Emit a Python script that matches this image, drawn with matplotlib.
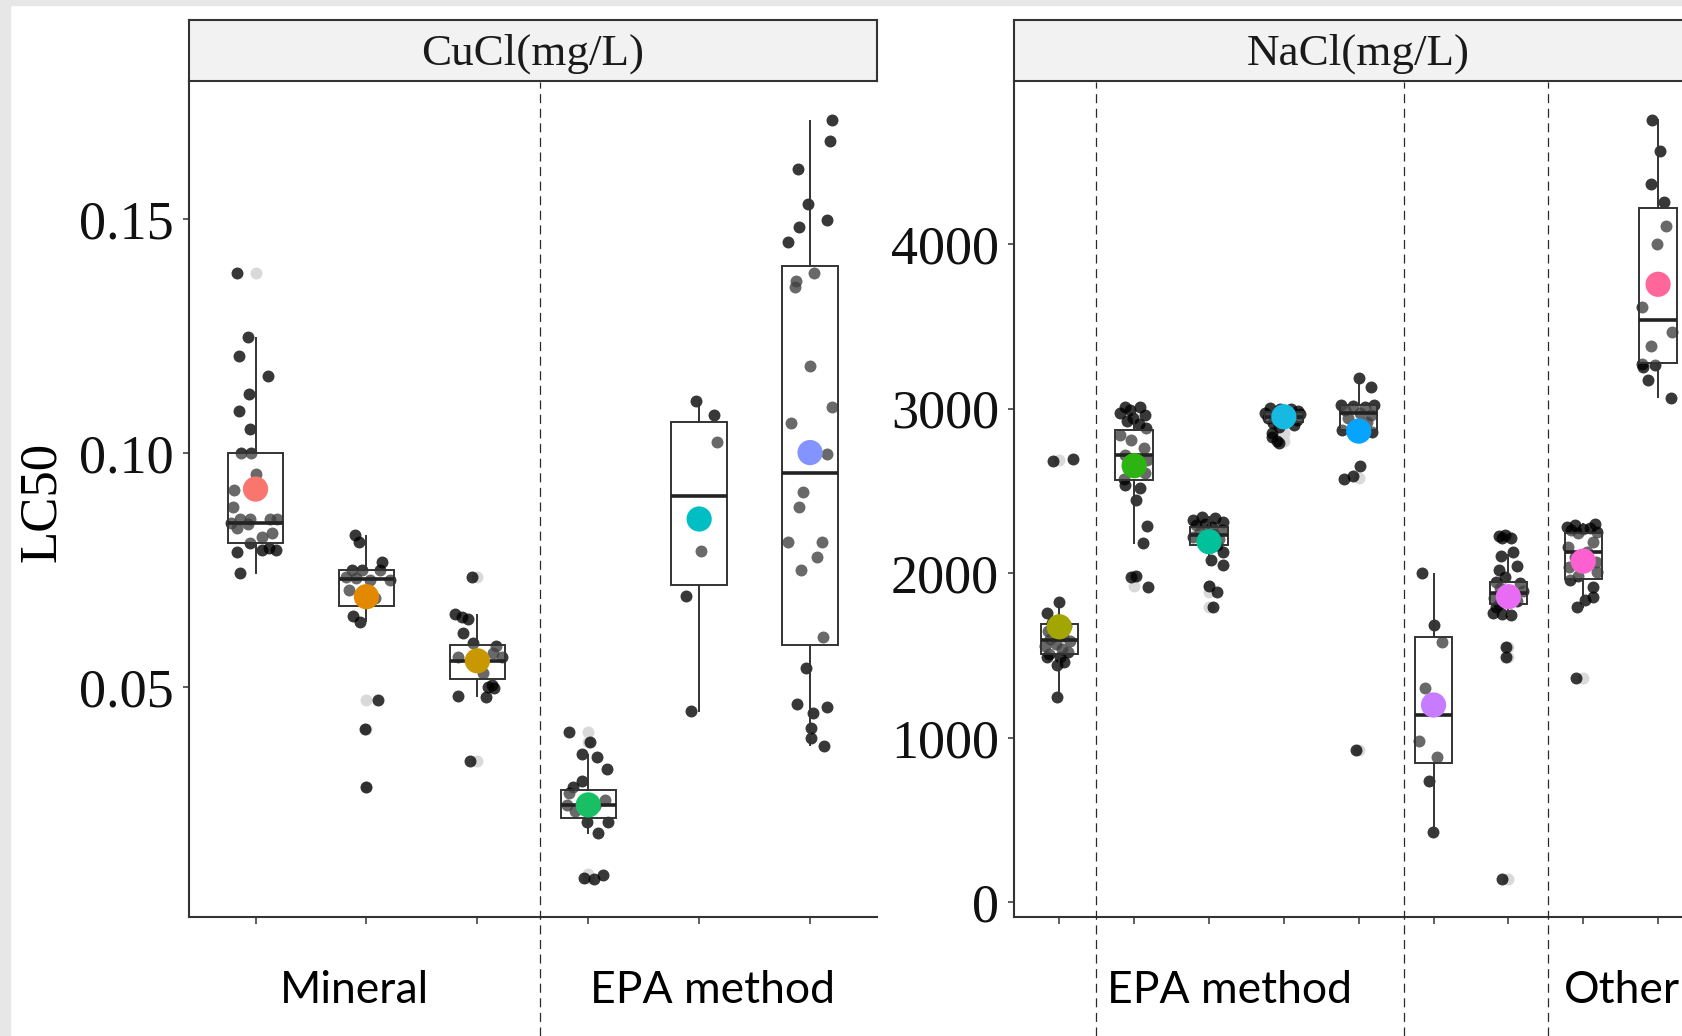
import matplotlib.pyplot as plt
from matplotlib.patches import Rectangle
from matplotlib.transforms import blended_transform_factory

# ---------------- CuCl(mg/L) panel, 6 groups ----------------
cu_vals = [
    [0.1385, 0.1248, 0.1208, 0.1165, 0.1126, 0.1089, 0.1051, 0.1000, 0.1000, 0.0955,
     0.0921, 0.0885, 0.0860, 0.0860, 0.0858, 0.0858, 0.0851, 0.0849, 0.0840, 0.0829,
     0.0821, 0.0807, 0.0797, 0.0793, 0.0793, 0.0789, 0.0743],
    [0.0825, 0.0810, 0.0768, 0.0750, 0.0750, 0.0750, 0.0736, 0.0729, 0.0729, 0.0733,
     0.0707, 0.0690, 0.0652, 0.0638, 0.0472, 0.0410, 0.0287],
    [0.0734, 0.0657, 0.0649, 0.0645, 0.0616, 0.0595, 0.0588, 0.0573, 0.0565, 0.0565,
     0.0556, 0.0529, 0.0504, 0.0497, 0.0500, 0.0481, 0.0479, 0.0342],
    [0.0403, 0.0383, 0.0357, 0.0350, 0.0325, 0.0300, 0.0286, 0.0273, 0.0258, 0.0248,
     0.0245, 0.0235, 0.0212, 0.0212, 0.0189, 0.0092, 0.0089, 0.0098],
    [0.1112, 0.1081, 0.1024, 0.0791, 0.0695, 0.0449],
    [0.1712, 0.1666, 0.1608, 0.1533, 0.1498, 0.1482, 0.1450, 0.1384, 0.1368, 0.1355,
     0.1187, 0.1098, 0.1065, 0.0998, 0.0917, 0.0885, 0.0810, 0.0810, 0.0778, 0.0749,
     0.0606, 0.0541, 0.0463, 0.0457, 0.0444, 0.0412, 0.0392, 0.0373],
]
cu_dx = [
    [-0.17, -0.07, -0.15, 0.11, -0.06, -0.15, -0.05, -0.13, -0.04, 0.00,
     -0.19, -0.20, -0.14, -0.05, 0.13, 0.19, -0.22, -0.07, -0.17, 0.15,
     0.06, -0.05, 0.12, 0.06, 0.18, -0.17, -0.14],
    [-0.10, -0.07, 0.14, -0.13, -0.04, 0.12, -0.18, 0.03, 0.21, -0.09,
     -0.16, 0.08, -0.12, -0.06, 0.10, -0.01, 0.00],
    [-0.05, -0.20, -0.14, -0.08, -0.13, -0.04, 0.17, 0.14, -0.17, 0.22,
     0.02, 0.05, 0.13, 0.15, 0.10, -0.17, 0.08, -0.07],
    [-0.17, 0.02, -0.06, 0.08, 0.17, -0.06, -0.14, -0.17, 0.15, -0.19,
     0.06, -0.12, -0.01, 0.18, 0.09, -0.04, 0.05, 0.13],
    [-0.03, 0.13, 0.16, 0.02, -0.12, -0.07],
    [0.20, 0.18, -0.11, -0.02, 0.15, -0.10, -0.20, 0.04, -0.13, -0.14,
     0.00, 0.20, -0.17, 0.15, -0.06, -0.10, -0.20, 0.11, 0.06, -0.08,
     0.12, -0.04, -0.12, 0.15, 0.03, 0.01, 0.01, 0.13],
]
cu_q1 = [0.0807, 0.0674, 0.0518, 0.0221, 0.0719, 0.0590]
cu_med = [0.0851, 0.0730, 0.0556, 0.0248, 0.0908, 0.0958]
cu_q3 = [0.1000, 0.0749, 0.0590, 0.0280, 0.1067, 0.1400]
cu_lo = [0.0743, 0.0640, 0.0481, 0.0189, 0.0449, 0.0375]
cu_hi = [0.1246, 0.0822, 0.0654, 0.0355, 0.1112, 0.1710]
cu_out = [[0.1385], [0.0472, 0.0410, 0.0287], [0.0734, 0.0342],
          [0.0403, 0.0383, 0.0100, 0.0092], [], []]
cu_mean = [0.0923, 0.0693, 0.0556, 0.0248, 0.0859, 0.1001]
cu_colors = ['#F8766D', '#E38900', '#C99800', '#19BF64', '#00BFC4', '#8494FF']

# ---------------- NaCl(mg/L) panel, 9 groups ----------------
na_vals = [
    [2693, 2683, 1826, 1756, 1700, 1680, 1650, 1620, 1600, 1590,
     1570, 1555, 1540, 1520, 1510, 1492, 1492, 1460, 1442, 1249],
    [3011, 3011, 2990, 2975, 2960, 2945, 2925, 2905, 2880, 2840,
     2810, 2760, 2720, 2690, 2640, 2610, 2570, 2535, 2520, 2444,
     2286, 2181, 1980, 1976, 1917],
    [2343, 2333, 2320, 2312, 2300, 2290, 2280, 2265, 2250, 2235,
     2220, 2205, 2190, 2170, 2130, 2080, 2049, 1922, 1887, 1796],
    [3005, 3000, 2995, 2985, 2975, 2965, 2955, 2950, 2940, 2930,
     2920, 2910, 2900, 2890, 2851, 2829, 2800, 2789],
    [3183, 3132, 3021, 3021, 3015, 3010, 2990, 2975, 2960, 2940,
     2920, 2895, 2870, 2860, 2653, 2592, 2570, 925],
    [2003, 1683, 1580, 1300, 982, 885, 737, 429],
    [2231, 2225, 2215, 2211, 2130, 2104, 2043, 2019, 1975, 1948,
     1940, 1910, 1890, 1870, 1850, 1830, 1812, 1796, 1756, 1750,
     1746, 1553, 1488, 140],
    [2298, 2290, 2282, 2275, 2270, 2262, 2250, 2242, 2191, 2160,
     2130, 2100, 2070, 2040, 2009, 1985, 1958, 1917, 1857, 1837,
     1796, 1365],
    [4752, 4566, 4362, 4253, 4109, 3998, 3619, 3463, 3382, 3270,
     3264, 3250, 3173, 3062],
]
na_dx = [
    [0.18, -0.09, 0.00, -0.16, -0.10, 0.09, -0.15, 0.05, -0.12, 0.14,
     -0.04, -0.19, 0.04, 0.12, -0.14, -0.17, 0.01, 0.06, -0.03, -0.03],
    [-0.12, 0.08, -0.05, -0.19, 0.15, -0.01, -0.09, 0.07, 0.16, -0.19,
     -0.04, 0.13, -0.12, 0.17, -0.04, 0.15, -0.13, -0.12, 0.08, 0.03,
     0.17, 0.12, 0.03, -0.04, 0.19],
    [-0.09, 0.08, -0.21, 0.19, -0.05, -0.17, 0.04, 0.18, -0.12, 0.07,
     -0.22, 0.14, -0.06, 0.11, 0.19, 0.02, 0.19, 0.00, 0.11, 0.06],
    [-0.18, 0.09, -0.05, 0.19, -0.25, 0.22, -0.11, 0.06, -0.21, 0.17,
     -0.02, -0.15, 0.13, -0.06, -0.16, -0.16, -0.09, -0.07],
    [0.01, 0.16, -0.24, 0.20, -0.08, 0.09, -0.18, 0.02, 0.16, -0.14,
     0.11, -0.07, -0.22, 0.18, 0.02, -0.07, -0.20, -0.03],
    [-0.16, 0.01, 0.11, -0.12, -0.20, 0.04, -0.06, -0.01],
    [-0.04, -0.13, 0.03, -0.09, 0.06, -0.10, 0.11, -0.13, -0.04, -0.17,
     0.16, -0.11, 0.20, 0.07, -0.19, 0.12, -0.12, -0.16, -0.20, -0.09,
     0.03, -0.03, -0.03, -0.08],
    [0.16, -0.11, -0.22, 0.09, 0.00, -0.17, 0.19, -0.07, 0.13, -0.21,
     0.05, -0.11, 0.17, -0.19, 0.18, -0.07, -0.18, 0.13, 0.13, 0.02,
     -0.09, -0.10],
    [-0.08, 0.02, -0.10, 0.08, 0.10, -0.02, -0.22, 0.18, -0.09, -0.21,
     -0.04, -0.20, -0.14, 0.17],
]
na_q1 = [1510, 2566, 2174, 2920, 2870, 845, 1812, 1962, 3275]
na_med = [1592, 2720, 2230, 2950, 2971, 1141, 1880, 2130, 3538]
na_q3 = [1691, 2868, 2278, 2980, 3021, 1610, 1948, 2242, 4220]
na_lo = [1249, 2181, 2049, 2890, 2850, 429, 1746, 1796, 3072]
na_hi = [1826, 3011, 2343, 3005, 3170, 1995, 2110, 2298, 4752]
na_out = [[2688], [1985, 1920], [1922, 1887, 1796], [2850, 2800],
          [2580, 925], [], [2228, 1553, 1488, 140], [1365], []]
na_mean = [1674, 2653, 2191, 2950, 2863, 1199, 1857, 2073, 3755]
na_colors = ['#A3A500', '#2DB312', '#00C19A', '#16B9E2', '#06A4FF',
             '#C77CFF', '#E76BF3', '#FD61D1', '#FF6699']

plt.rcParams['lines.scale_dashes'] = False
serif = 'Liberation Serif'
W, H = 1683, 1036
fig = plt.figure(figsize=(W / 100, H / 100), dpi=100)
fig.patch.set_facecolor('white')
fig.patches.append(Rectangle((0, 0), 10 / W, 1, transform=fig.transFigure,
                             color='#e7e7e7', zorder=-5))
fig.patches.append(Rectangle((0, 1 - 5 / H), 1, 5 / H, transform=fig.transFigure,
                             color='#e7e7e7', zorder=-5))

ax_bot, ax_h = (H - 917) / H, (917 - 81) / H
strip_bot, strip_h = (H - 81) / H, 61 / H
ax1 = fig.add_axes([189 / W, ax_bot, 687.6 / W, ax_h])
ax2 = fig.add_axes([1014.4 / W, ax_bot, 688.6 / W, ax_h])
s1 = fig.add_axes([189 / W, strip_bot, 687.6 / W, strip_h])
s2 = fig.add_axes([1014.4 / W, strip_bot, 688.6 / W, strip_h])

edge = '#333333'


def draw_panel(ax, vals, dx, q1, med, q3, lo, hi, out, mean, colors):
    n = len(vals)
    pos = list(range(1, n + 1))
    stats = [dict(q1=q1[i], med=med[i], q3=q3[i], whislo=lo[i], whishi=hi[i],
                  fliers=out[i]) for i in range(n)]
    bp = ax.bxp(stats, positions=pos, widths=0.5, patch_artist=True,
                showcaps=False, showfliers=True,
                boxprops=dict(facecolor=(1, 1, 1, 0.25), edgecolor=edge, linewidth=1.4),
                whiskerprops=dict(color=edge, linewidth=1.4),
                medianprops=dict(color='#222222', linewidth=2.6, solid_capstyle='butt'),
                flierprops=dict(marker='o', markerfacecolor='#d9d9d9',
                                markeredgecolor='none', markersize=8.6))
    for k in ('boxes', 'whiskers', 'medians'):
        for a in bp[k]:
            a.set_zorder(4)
    for a in bp['fliers']:
        a.set_zorder(1.5)
    for i in range(n):
        xs = [pos[i] + d for d in dx[i]]
        ax.scatter(xs, vals[i], s=74, color='black', alpha=0.78, linewidths=0, zorder=3)
    ax.scatter(pos, mean, s=330, c=colors, linewidths=0, zorder=5)
    ax.set_xlim(0.4, n + 0.6)
    ax.set_xticks(pos)
    ax.set_xticklabels([])
    for sp in ('top', 'right'):
        ax.spines[sp].set_visible(False)
    for sp in ('left', 'bottom'):
        ax.spines[sp].set_color(edge)
        ax.spines[sp].set_linewidth(1.5)
    ax.tick_params(axis='x', length=5, width=1.1, color=edge)
    ax.tick_params(axis='y', length=4, width=1.1, color=edge, pad=7,
                   labelsize=39, labelcolor='#111111')


draw_panel(ax1, cu_vals, cu_dx, cu_q1, cu_med, cu_q3, cu_lo, cu_hi, cu_out,
           cu_mean, cu_colors)
ax1.set_ylim(0.00085, 0.1795)
ax1.set_yticks([0.05, 0.10, 0.15])
ax1.set_yticklabels(['0.05', '0.10', '0.15'], fontfamily=serif)

draw_panel(ax2, na_vals, na_dx, na_q1, na_med, na_q3, na_lo, na_hi, na_out,
           na_mean, na_colors)
ax2.set_ylim(-89, 4990)
ax2.set_yticks([0, 1000, 2000, 3000, 4000])
ax2.set_yticklabels(['0', '1000', '2000', '3000', '4000'], fontfamily=serif)

for s, title in ((s1, 'CuCl(mg/L)'), (s2, 'NaCl(mg/L)')):
    s.set_facecolor('#f2f2f2')
    s.set_xticks([])
    s.set_yticks([])
    for sp in s.spines.values():
        sp.set_color(edge)
        sp.set_linewidth(1.5)
    s.text(0.5, 0.45, title, transform=s.transAxes, ha='center', va='center',
           fontsize=32.5, fontfamily=serif, color='#1a1a1a')

fig.text(42 / W, 1 - 502 / H, 'LC50', rotation=90, ha='center', va='center',
         fontsize=38, fontfamily=serif, color='black')

# dashed separators added over the figure
for ax, xs in ((ax1, [3.565]), (ax2, [1.49, 5.605, 7.53])):
    tr = blended_transform_factory(ax.transData, fig.transFigure)
    for x in xs:
        ax.plot([x, x], [0, 1 - 82 / H], transform=tr, clip_on=False,
                color='#2a2a2a', linewidth=0.9, dashes=(6.5, 4), zorder=6)

# group labels
label_y = 1 - 1003 / H
for ax, x, txt, ha in ((ax1, 1.89, 'Mineral', 'center'), (ax1, 5.12, 'EPA method', 'center'),
                       (ax2, 3.27, 'EPA method', 'center'), (ax2, 7.74, 'Other', 'left')):
    tr = blended_transform_factory(ax.transData, fig.transFigure)
    ax.text(x, label_y, txt, transform=tr, ha=ha, va='baseline', fontsize=32,
            fontfamily='Lato', color='black', clip_on=False)

fig.savefig('out.png', dpi=100)
